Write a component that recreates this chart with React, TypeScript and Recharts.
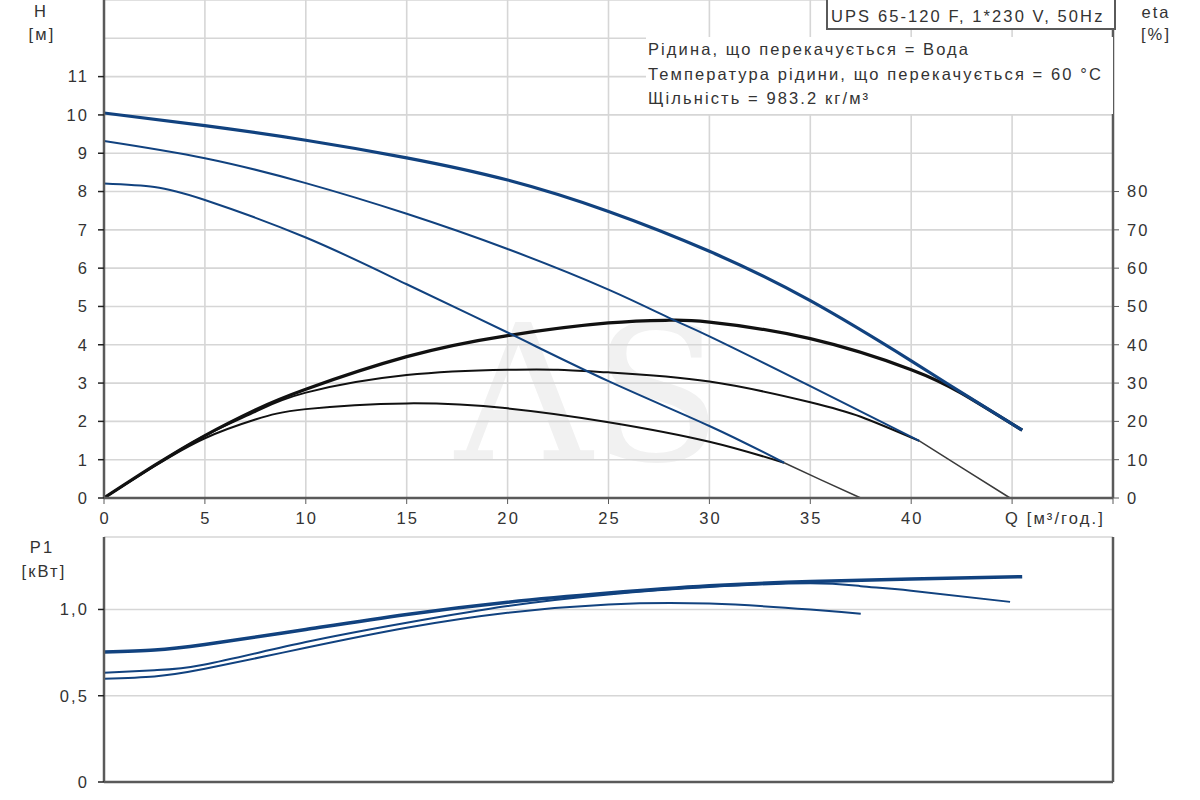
import React from "react";
import {
    LineChart,
    Line,
    XAxis,
    YAxis,
    CartesianGrid,
    ReferenceLine,
} from "recharts";

// flow Q [m3/h] for each curve, with head H [m], efficiency eta [%] and power P1 [kW]
const qTicks = [0, 5, 10, 15, 20, 25, 30, 35, 40, 45, 50];
const hTicks = [0, 1, 2, 3, 4, 5, 6, 7, 8, 9, 10, 11];
const etaTicks = [0, 10, 20, 30, 40, 50, 60, 70, 80];
const p1Ticks = [0, 0.5, 1.0];

// speed 3 (top)
const qHeadS3 = [0, 5, 10, 15, 20, 25, 30, 35, 40, 42.5, 45.5];
const headS3 = [10.05, 9.72, 9.34, 8.88, 8.3, 7.48, 6.44, 5.15, 3.58, 2.75, 1.77];
// speed 2
const qHeadS2 = [0, 5, 10, 15, 20, 25, 28, 30, 35, 40.4];
const headS2 = [9.32, 8.87, 8.22, 7.42, 6.5, 5.44, 4.7, 4.22, 2.92, 1.49];
const qHeadS2Tail = [40.4, 42.6, 44.9];
const headS2Tail = [1.49, 0.76, 0];
// speed 1
const qHeadS1 = [0, 2.5, 5, 10, 15, 20, 25, 30, 33.7];
const headS1 = [8.21, 8.12, 7.78, 6.8, 5.58, 4.32, 3.05, 1.88, 0.92];
const qHeadS1Tail = [33.7, 35.5, 37.5];
const headS1Tail = [0.92, 0.48, 0];

const qEtaS3 = [0, 2.5, 5, 7.5, 10, 15, 20, 25, 28, 30, 35, 40, 42.5, 45.5];
const etaS3 = [0, 8.5, 16.3, 23, 28.4, 36.9, 42.4, 45.7, 46.4, 45.9, 41.6, 33.5, 27.3, 17.7];
const qEtaS2 = [0, 2.5, 5, 7.5, 10, 15, 20, 22.5, 25, 30, 35, 37.5, 40.4];
const etaS2 = [0, 8.5, 16.3, 22.5, 27.5, 32.1, 33.5, 33.5, 32.8, 30.4, 25, 21.2, 14.9];
const qEtaS1 = [0, 2.5, 5, 7.5, 10, 15, 20, 25, 30, 33.7];
const etaS1 = [0, 8.3, 15.6, 20.5, 23.2, 24.7, 23.4, 19.8, 14.7, 9.2];

const qP1S3 = [0, 2.5, 5, 10, 15, 20, 25, 30, 35, 40, 45.5];
const p1S3 = [0.753, 0.765, 0.797, 0.884, 0.971, 1.042, 1.095, 1.137, 1.162, 1.176, 1.19];
const qP1S2 = [0, 2.5, 5, 10, 15, 20, 25, 30, 35, 37.5, 40, 44.9];
const p1S2 = [0.633, 0.648, 0.681, 0.811, 0.923, 1.02, 1.087, 1.13, 1.152, 1.135, 1.109, 1.044];
const qP1S1 = [0, 2.5, 5, 10, 15, 20, 25, 30, 35, 37.5];
const p1S1 = [0.598, 0.612, 0.656, 0.778, 0.894, 0.981, 1.029, 1.034, 1.0, 0.975];

const toPoints = (qs: number[], vs: number[]) => qs.map((q, i) => ({ q, v: vs[i] }));

const FONT = "'Liberation Sans', Arial, sans-serif";
const TEXT = "#333";
const AXIS = "#5a5a5a";
const GRID = "#d6d6d6";
const BLUE = "#11427f";
const BLACK = "#111";
const SPACING = 2.1;

interface TickProps {
    x?: number;
    y?: number;
    payload?: { value: number };
}

const QTick = ({ x = 0, y = 0, payload }: TickProps): React.ReactElement | null => {
    const v = payload ? payload.value : 0;
    if (v === 50) return null;
    if (v === 45) {
        return (
            <text x={x - 7} y={y} dy={18} textAnchor="start" fill={TEXT} fontSize={16.5} fontFamily={FONT} letterSpacing={SPACING}>
                Q [м³/год.]
            </text>
        );
    }
    return (
        <text x={x + SPACING / 2} y={y} dy={18} textAnchor="middle" fill={TEXT} fontSize={16.5} fontFamily={FONT} letterSpacing={SPACING}>
            {v}
        </text>
    );
};

const tickStyle = { fill: TEXT, fontSize: 16.5, fontFamily: FONT, letterSpacing: SPACING };

const abs = (left: number, top: number): React.CSSProperties => ({
    position: "absolute",
    left,
    top,
    fontFamily: FONT,
    fontSize: 16.5,
    letterSpacing: SPACING,
    color: TEXT,
    lineHeight: "20px",
    whiteSpace: "nowrap",
});

const curve = {
    type: "natural" as const,
    dataKey: "v",
    dot: false,
    activeDot: false,
    isAnimationActive: false,
};

export default function App(): React.ReactElement {
    return (
        <div style={{ position: "absolute", left: 0, top: 0, width: 1200, height: 800, background: "#fff", overflow: "hidden" }}>
            {/* watermark */}
            <div style={{ ...abs(455, 300), fontFamily: "'DejaVu Serif', serif", fontSize: 190, lineHeight: "190px", letterSpacing: 0, color: "#f1f1f1" }}>
                AS
            </div>

            <div style={{ position: "absolute", left: 0, top: 0 }}>
                <LineChart width={1200} height={532} margin={{ top: 0, right: 0, bottom: 0, left: 0 }}>
                    <CartesianGrid stroke={GRID} strokeWidth={1.6} yAxisId="h" />
                    <XAxis
                        dataKey="q"
                        type="number"
                        domain={[0, 50]}
                        ticks={qTicks}
                        interval={0}
                        height={34}
                        tickSize={6}
                        tickMargin={2}
                        axisLine={{ stroke: AXIS, strokeWidth: 2.5 }}
                        tickLine={{ stroke: AXIS }}
                        tick={<QTick />}
                        allowDataOverflow
                    />
                    <YAxis
                        yAxisId="h"
                        domain={[0, 13]}
                        ticks={hTicks}
                        interval={0}
                        width={104}
                        tickSize={6}
                        tickMargin={9}
                        axisLine={{ stroke: AXIS, strokeWidth: 2.5 }}
                        tickLine={{ stroke: "#222", strokeWidth: 1.5 }}
                        tick={tickStyle}
                    />
                    <YAxis
                        yAxisId="eta"
                        orientation="right"
                        domain={[0, 130]}
                        ticks={etaTicks}
                        interval={0}
                        width={87}
                        tickSize={6}
                        tickMargin={8}
                        axisLine={{ stroke: AXIS, strokeWidth: 2.5 }}
                        tickLine={{ stroke: AXIS }}
                        tick={tickStyle}
                    />
                    <ReferenceLine yAxisId="h" y={12} stroke={GRID} strokeWidth={1.6} />

                    <Line yAxisId="eta" data={toPoints(qEtaS1, etaS1)} {...curve} stroke={BLACK} strokeWidth={2} />
                    <Line yAxisId="eta" data={toPoints(qEtaS2, etaS2)} {...curve} stroke={BLACK} strokeWidth={2} />
                    <Line yAxisId="eta" data={toPoints(qEtaS3, etaS3)} {...curve} stroke={BLACK} strokeWidth={3.2} />

                    <Line yAxisId="h" data={toPoints(qHeadS1Tail, headS1Tail)} {...curve} stroke="#3a3a3a" strokeWidth={1.5} />
                    <Line yAxisId="h" data={toPoints(qHeadS2Tail, headS2Tail)} {...curve} stroke="#3a3a3a" strokeWidth={1.5} />
                    <Line yAxisId="h" data={toPoints(qHeadS1, headS1)} {...curve} stroke={BLUE} strokeWidth={2} />
                    <Line yAxisId="h" data={toPoints(qHeadS2, headS2)} {...curve} stroke={BLUE} strokeWidth={2} />
                    <Line yAxisId="h" data={toPoints(qHeadS3, headS3)} {...curve} stroke={BLUE} strokeWidth={3.2} />
                </LineChart>
            </div>

            <div style={{ position: "absolute", left: 0, top: 535 }}>
                <LineChart width={1200} height={263} margin={{ top: 2, right: 0, bottom: 0, left: 0 }}>
                    <CartesianGrid stroke={GRID} strokeWidth={1.6} />
                    <XAxis
                        dataKey="q"
                        type="number"
                        domain={[0, 50]}
                        ticks={qTicks}
                        interval={0}
                        height={16}
                        tick={false}
                        tickLine={false}
                        axisLine={{ stroke: AXIS, strokeWidth: 2.5 }}
                        allowDataOverflow
                    />
                    <XAxis
                        xAxisId="top"
                        orientation="top"
                        dataKey="q"
                        type="number"
                        domain={[0, 50]}
                        height={0}
                        tick={false}
                        tickLine={false}
                        axisLine={{ stroke: AXIS, strokeWidth: 2.5 }}
                    />
                    <YAxis
                        domain={[0, 1.42]}
                        ticks={p1Ticks}
                        interval={0}
                        width={104}
                        tickSize={6}
                        tickMargin={9}
                        axisLine={{ stroke: AXIS, strokeWidth: 2.5 }}
                        tickLine={{ stroke: "#222", strokeWidth: 1.5 }}
                        tick={tickStyle}
                        tickFormatter={(v: number) => (v === 0 ? "0" : v.toFixed(1).replace(".", ","))}
                    />
                    <YAxis
                        yAxisId="r"
                        orientation="right"
                        domain={[0, 1.42]}
                        width={87}
                        tick={false}
                        tickLine={false}
                        axisLine={{ stroke: AXIS, strokeWidth: 2.5 }}
                    />

                    <Line data={toPoints(qP1S1, p1S1)} {...curve} stroke={BLUE} strokeWidth={2} />
                    <Line data={toPoints(qP1S2, p1S2)} {...curve} stroke={BLUE} strokeWidth={2} />
                    <Line data={toPoints(qP1S3, p1S3)} {...curve} stroke={BLUE} strokeWidth={3.5} />
                </LineChart>
            </div>

            {/* axis titles */}
            <div style={{ ...abs(24, 1), width: 34, textAlign: "center" }}>H</div>
            <div style={{ ...abs(22, 24), width: 40, textAlign: "center" }}>[м]</div>
            <div style={{ ...abs(1134, 2), width: 44, textAlign: "center" }}>eta</div>
            <div style={{ ...abs(1134, 24), width: 44, textAlign: "center" }}>[%]</div>
            <div style={{ ...abs(22, 537), width: 40, textAlign: "center" }}>P1</div>
            <div style={{ ...abs(14, 561), width: 60, textAlign: "center" }}>[кВт]</div>

            {/* product box */}
            <div
                style={{
                    ...abs(826, -4),
                    width: 283,
                    height: 30,
                    border: `2px solid ${AXIS}`,
                    background: "#fff",
                    paddingLeft: 3,
                    lineHeight: "36px",
                    boxSizing: "content-box",
                }}
            >
                UPS 65-120 F, 1*230 V, 50Hz
            </div>

            {/* medium info */}
            <div style={{ ...abs(646, 37), width: 465, height: 77, background: "#fff", paddingLeft: 2, lineHeight: "24.5px" }}>
                <div>Рідина, що перекачується = Вода</div>
                <div>Температура рідини, що перекачується = 60 °C</div>
                <div>Щільність = 983.2 кг/м³</div>
            </div>
        </div>
    );
}
